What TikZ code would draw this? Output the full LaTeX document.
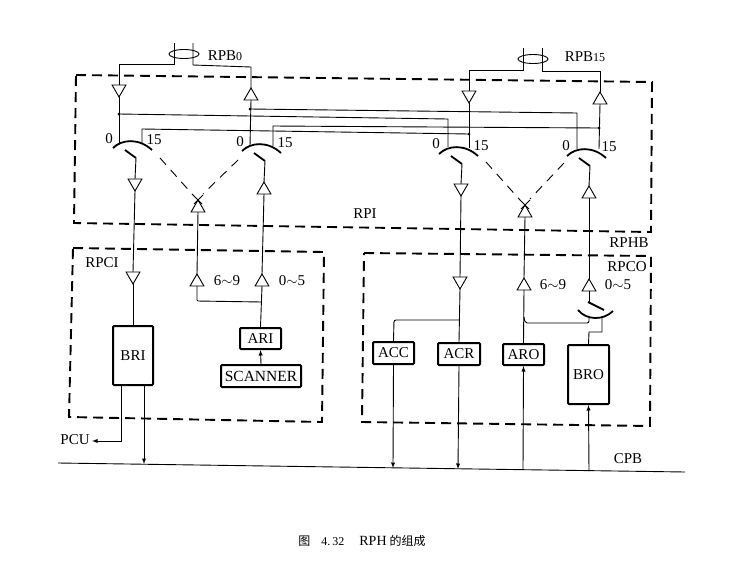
\documentclass[tikz,border=0pt]{standalone}
\usepackage{fontspec}
\setmainfont{Liberation Serif}
\newfontfamily\cjkfont{Noto Sans CJK SC}
\usetikzlibrary{calc, shapes.geometric, positioning}

\tikzset{
    regbox/.style={draw, rectangle, line width=2pt, rounded corners=1pt, inner sep=0pt, fill=white},
    bufup/.style={draw, regular polygon, regular polygon sides=3, minimum size=16pt, inner sep=0pt, outer sep=0pt, line width=0.9pt, fill=white},
    bufdown/.style={bufup, shape border rotate=180},
    zone/.style={line width=1.9pt, dash pattern=on 10pt off 6pt},
    lab/.style={font=\fontsize{15}{17}\selectfont, inner sep=0pt},
    cross/.style={line width=0.9pt, dash pattern=on 9pt off 7pt}
}

\begin{document}
\begin{tikzpicture}[>=latex, x=1pt, y=-1pt, line width=0.9pt]
    \useasboundingbox (0,0) rectangle (729,587);

    % 1. Vung dashed RPI, RPCI, RPCO
    \draw[zone] (76,75) -- (652,82) -- (651,232) -- (74,223) -- cycle;
    \draw[zone] (73,248) -- (324,252) -- (322,422) -- (69,417) -- cycle;
    \draw[zone] (364,253) -- (651,256) -- (650,426) -- (362,422) -- cycle;

    % 2. Cac bo dem tam giac
    \node[bufdown] (d1) at (119,89) {};
    \node[bufup] (u1) at (251,96) {};
    \node[bufdown] (d2) at (135,183) {};
    \node[bufup] (u2) at (264,190) {};
    \node[bufup] (x1) at (198,208) {};
    \node[bufdown] (d3) at (133,276) {};
    \node[bufup] (u3) at (197,282) {};
    \node[bufup] (u4) at (262,282) {};
    \node[bufdown] (d4) at (469,95) {};
    \node[bufup] (u5) at (600,100) {};
    \node[bufdown] (d5) at (461,188) {};
    \node[bufup] (u6) at (589,194) {};
    \node[bufup] (x2) at (525,213) {};
    \node[bufdown] (d6) at (460,281) {};
    \node[bufup] (u7) at (524,286) {};
    \node[bufup] (u8) at (589,287) {};

    % 3. Cac thanh ghi
    \node[regbox, minimum width=40pt, minimum height=59pt] (BRI) at (133,355.5) {};
    \node[regbox, minimum width=41pt, minimum height=21pt] (ARI) at (260.5,338.5) {};
    \node[regbox, minimum width=80pt, minimum height=22pt] (SCANNER) at (261,376) {};
    \node[regbox, minimum width=41pt, minimum height=22pt] (ACC) at (393.5,353) {};
    \node[regbox, minimum width=42pt, minimum height=22pt] (ACR) at (459,354) {};
    \node[regbox, minimum width=41pt, minimum height=21pt] (ARO) at (523.5,354.5) {};
    \node[regbox, minimum width=41pt, minimum height=59pt] (BRO) at (588.5,374.5) {};
    \node[lab] (BRItext) at (BRI) {BRI};
    \node[lab] (ARItext) at (ARI) {ARI};
    \node[lab, font=\fontsize{15.5}{17}\selectfont] (SCANNERtext) at (SCANNER) {SCANNER};
    \node[lab] (ACCtext) at (ACC) {ACC};
    \node[lab] (ACRtext) at (ACR) {ACR};
    \node[lab] (AROtext) at (ARO) {ARO};
    \node[lab] (BROtext) at (BRO) {BRO};

    % 4. Cong tac tren: cung, luoi dao, diem dau ra
    \foreach \n/\x/\y in {a/113/148, b/242/151, c/439/154, e/567/156} {
        \draw[line width=1.8pt] (\x,\y) .. controls (\x+9,\y-9) and (\x+26,\y-10) .. (\x+39,\y+2);
        \coordinate (tip\n) at (\x+23,\y+10);
        \draw[line width=1.8pt] (\x+12,\y+2) -- (tip\n);
    }
    \draw (tipa) -- (d2.north);
    \draw (d2.south) -- (d3.north);
    \draw (d3.south) -- (BRI.north);
    \draw (tipb) -- (u2.north);
    \draw (u2.south) -- (u4.north);
    \draw (tipc) -- (d5.north);
    \draw (d5.south) -- (d6.north);
    \draw (tipe) -- (u6.north);
    \draw (u6.south) -- (u8.north);

    % 5. Cap RPB0 va RPB15
    \node[draw, ellipse, minimum width=30pt, minimum height=9pt, inner sep=0pt] (ring0) at (184,54) {};
    \node[draw, ellipse, minimum width=30pt, minimum height=9pt, inner sep=0pt] (ring15) at (533,59) {};
    \coordinate (r0a) at (174,43);
    \coordinate (r0b) at (193,43);
    \coordinate (r15a) at (523,48);
    \coordinate (r15b) at (542,48);
    \draw (r0a) -- (174,64) -- (119,64) -- (d1.north);
    \draw (r0b) -- (193,65) -- (251,67) -- (u1.north);
    \draw (r15a) -- (523,70) -- (469,70) -- (d4.north);
    \draw (r15b) -- (542,71) -- (600,71) -- (u5.north);
    \coordinate (p1) at (119,143);
    \coordinate (p2) at (250,146);
    \coordinate (p3) at (469,148);
    \coordinate (p4) at (599,149);
    \draw (d1.south) -- (p1);
    \draw (u1.south) -- (p2);
    \draw (d4.south) -- (p3);
    \draw (u5.south) -- (p4);

    % 6. Bon duong ngang giua cac cong tac
    \coordinate (j1) at (119,114);
    \coordinate (j2) at (250,109);
    \coordinate (j3) at (469,134);
    \coordinate (j4) at (599,128);
    \draw (j2) -- (577,113) -- (577,149);
    \draw (j1) -- (448,119) -- (448,147);
    \draw (j4) -- (273,126) -- (273,146);
    \draw (j3) -- (142,129) -- (142,143);
    \foreach \j in {j1, j2, j3, j4} {
        \fill (\j) circle (1.5pt);
    }

    % 7. Duong dut cheo ve bo dem x1, x2
    \draw[cross] (160,158) -- ($(x1.north)+(-5,-5)$);
    \draw[cross] (238,160) -- ($(x1.north)+(5,-6)$);
    \draw[cross] (486,162) -- ($(x2.north)+(-5,-5)$);
    \draw[cross] (564,163) -- ($(x2.north)+(5,-6)$);
    \foreach \b in {x1, x2} {
        \draw ($(\b.north)+(-5,-5)$) -- ($(\b.north)+(4,4)$);
        \draw ($(\b.north)+(5,-5)$) -- ($(\b.north)+(-4,4)$);
    }

    % 8. Nhanh ben trai: ARI, SCANNER
    \draw (u3.north) -- (x1.south);
    \draw[rounded corners=1pt] (u3.south) -- (197,301) -- (262,302);
    \draw (u4.south) -- (ARI.north);
    \draw[->] (SCANNER.north) -- (ARI.south);
    \coordinate (briOut) at (121,385);
    \coordinate (briBus) at (144,385);
    \coordinate (pcuEnd) at (92,441);
    \draw[->] (briOut) -- (121,441) -- (pcuEnd);
    \draw[->] (briBus) -- (144,464);

    % 9. Nhanh ben phai: ACC, ACR, ARO, BRO
    \draw (d6.south) -- (ACR.north);
    \draw[rounded corners=2pt] (ACC.north) -- (394,320) -- (460,320);
    \draw (ARO.north) -- (u7.south);
    \draw (u7.north) -- (x2.south);
    \coordinate (bar) at (589,302);
    \draw (u8.south) -- (bar);
    \draw[line width=1.8pt] (578,310) .. controls (586,320) and (603,321) .. (613,311);
    \draw[line width=1.8pt] (588,302) -- (604,310);
    \draw[rounded corners=2pt] (524,317) -- (525,323) -- (589,323) -- (589,318);
    \draw (602,317) -- (602,332) -- (589,332) -- (BRO.north);
    \coordinate (accBus) at (393,468);
    \coordinate (acrBus) at (458,469);
    \coordinate (aroBus) at (523,470);
    \coordinate (broBus) at (589,471);
    \draw[->] (ACC.south) -- (accBus);
    \draw[->] (ACR.south) -- (acrBus);
    \draw[->] (aroBus) -- (ARO.south);
    \draw[->] (broBus) -- (BRO.south);

    % 10. Thanh CPB
    \coordinate (cpbL) at (58,463);
    \coordinate (cpbR) at (685,472);
    \draw (cpbL) -- (cpbR);

    % 11. Nhan
    \node[lab] (lRPB0) at (225,56) {RPB{\fontsize{12}{14}\selectfont 0}};
    \node[lab] (lRPB15) at (585,57) {RPB{\fontsize{12}{14}\selectfont 15}};
    \node[lab] (lRPI) at (365,214) {RPI};
    \node[lab] (lRPHB) at (629,243) {RPHB};
    \node[lab] (lRPCI) at (102,263) {RPCI};
    \node[lab] (lRPCO) at (627,267) {RPCO};
    \node[lab] (lPCU) at (75,440) {PCU};
    \node[lab] (lCPB) at (628,459) {CPB};
    \node[lab] (l0a) at (109,139) {0};
    \node[lab] (l15a) at (154,140) {15};
    \node[lab] (l0b) at (240,142) {0};
    \node[lab] (l15b) at (285,143) {15};
    \node[lab] (l0c) at (436,144) {0};
    \node[lab] (l15c) at (481,146) {15};
    \node[lab] (l0e) at (566,146) {0};
    \node[lab] (l15e) at (609,147) {15};
    \node[lab] (l69a) at (227,281) {6$\sim$9};
    \node[lab] (l05a) at (292,281) {0$\sim$5};
    \node[lab] (l69b) at (553,285) {6$\sim$9};
    \node[lab] (l05b) at (618,285) {0$\sim$5};
    \node[inner sep=0pt, font=\fontsize{12}{14}\selectfont] (caption) at (362,541) {{\cjkfont 图}\hspace{11pt}4.\,32\hspace{15pt}{\fontsize{14}{14}\selectfont RPH}\hspace{3pt}{\cjkfont 的组成}};
\end{tikzpicture}
\end{document}
